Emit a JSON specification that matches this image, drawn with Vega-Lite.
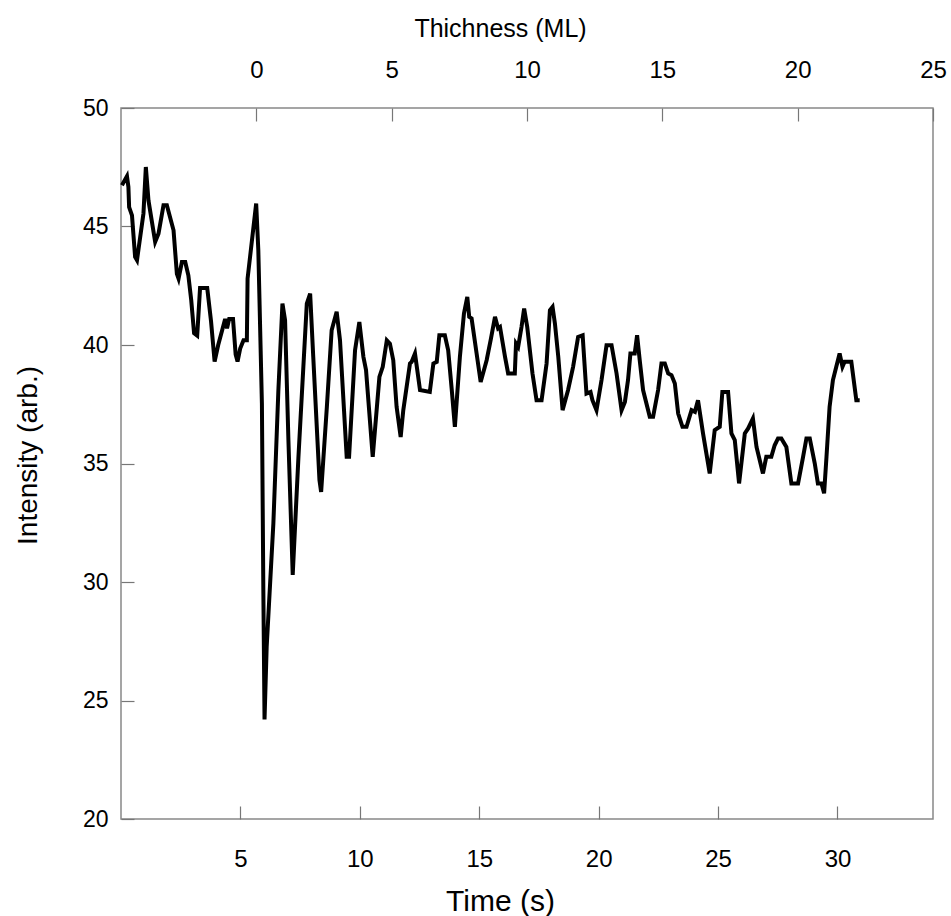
{
  "$schema": "https://vega.github.io/schema/vega-lite/v6.json",
  "width": 812,
  "height": 711,
  "autosize": {"type": "none"},
  "padding": {"left": 121, "top": 108, "right": 18, "bottom": 97},
  "background": "white",
  "config": {
    "view": {"stroke": "#888888", "strokeWidth": 1.5},
    "font": "Liberation Sans",
    "axis": {
      "domain": false,
      "grid": false,
      "labelFlush": false,
      "labelOverlap": false,
      "tickColor": "#777777",
      "tickWidth": 1.2,
      "labelColor": "black",
      "titleColor": "black",
      "labelFont": "Liberation Sans",
      "titleFont": "Liberation Sans",
      "titleFontWeight": "normal"
    }
  },
  "datasets": {
    "series": [
      {"t": 0.04, "I": 46.74}, {"t": 0.25, "I": 47.12}, {"t": 0.31, "I": 46.67}, {"t": 0.34, "I": 45.82},
      {"t": 0.46, "I": 45.47}, {"t": 0.59, "I": 43.72}, {"t": 0.67, "I": 43.58}, {"t": 0.94, "I": 45.55},
      {"t": 1.04, "I": 47.51}, {"t": 1.15, "I": 46.1}, {"t": 1.43, "I": 44.35}, {"t": 1.57, "I": 44.7},
      {"t": 1.78, "I": 45.9}, {"t": 1.92, "I": 45.9}, {"t": 2.2, "I": 44.84}, {"t": 2.34, "I": 43.0},
      {"t": 2.41, "I": 42.8}, {"t": 2.55, "I": 43.5}, {"t": 2.69, "I": 43.5}, {"t": 2.82, "I": 42.94},
      {"t": 2.94, "I": 41.9}, {"t": 3.06, "I": 40.5}, {"t": 3.19, "I": 40.4}, {"t": 3.31, "I": 42.4},
      {"t": 3.61, "I": 42.4}, {"t": 3.77, "I": 41.0}, {"t": 3.92, "I": 39.3}, {"t": 4.07, "I": 40.0},
      {"t": 4.23, "I": 40.6}, {"t": 4.36, "I": 41.1}, {"t": 4.44, "I": 40.7}, {"t": 4.53, "I": 41.1},
      {"t": 4.69, "I": 41.1}, {"t": 4.8, "I": 39.6}, {"t": 4.88, "I": 39.3}, {"t": 4.99, "I": 39.85},
      {"t": 5.13, "I": 40.2}, {"t": 5.27, "I": 40.2}, {"t": 5.3, "I": 42.8}, {"t": 5.66, "I": 45.97},
      {"t": 5.75, "I": 44.0}, {"t": 5.9, "I": 37.53}, {"t": 5.96, "I": 29.66}, {"t": 6.01, "I": 24.2},
      {"t": 6.1, "I": 27.27}, {"t": 6.38, "I": 32.47}, {"t": 6.59, "I": 38.1}, {"t": 6.76, "I": 41.75},
      {"t": 6.87, "I": 41.05}, {"t": 7.01, "I": 35.98}, {"t": 7.19, "I": 30.3}, {"t": 7.43, "I": 35.28},
      {"t": 7.78, "I": 41.75}, {"t": 7.92, "I": 42.17}, {"t": 8.05, "I": 39.5}, {"t": 8.31, "I": 34.3},
      {"t": 8.38, "I": 33.8}, {"t": 8.62, "I": 37.39}, {"t": 8.82, "I": 40.62}, {"t": 9.03, "I": 41.4},
      {"t": 9.17, "I": 40.2}, {"t": 9.45, "I": 35.28}, {"t": 9.55, "I": 35.28}, {"t": 9.8, "I": 39.78},
      {"t": 9.98, "I": 40.97}, {"t": 10.15, "I": 39.5}, {"t": 10.26, "I": 38.94}, {"t": 10.54, "I": 35.28},
      {"t": 10.82, "I": 38.65}, {"t": 10.96, "I": 39.08}, {"t": 11.13, "I": 40.2}, {"t": 11.26, "I": 40.06},
      {"t": 11.4, "I": 39.36}, {"t": 11.54, "I": 37.39}, {"t": 11.71, "I": 36.12}, {"t": 11.82, "I": 37.25},
      {"t": 12.1, "I": 39.22}, {"t": 12.17, "I": 39.29}, {"t": 12.31, "I": 39.64}, {"t": 12.52, "I": 38.1},
      {"t": 12.93, "I": 38.02}, {"t": 13.08, "I": 39.22}, {"t": 13.22, "I": 39.29}, {"t": 13.33, "I": 40.41},
      {"t": 13.56, "I": 40.41}, {"t": 13.7, "I": 39.78}, {"t": 13.85, "I": 38.1}, {"t": 13.98, "I": 36.55},
      {"t": 14.19, "I": 39.5}, {"t": 14.36, "I": 41.33}, {"t": 14.5, "I": 42.03}, {"t": 14.58, "I": 41.19},
      {"t": 14.68, "I": 41.12}, {"t": 14.89, "I": 39.64}, {"t": 15.06, "I": 38.44}, {"t": 15.31, "I": 39.36},
      {"t": 15.49, "I": 40.27}, {"t": 15.66, "I": 41.19}, {"t": 15.79, "I": 40.7}, {"t": 15.87, "I": 40.76},
      {"t": 16.08, "I": 39.5}, {"t": 16.21, "I": 38.8}, {"t": 16.49, "I": 38.8}, {"t": 16.54, "I": 40.06},
      {"t": 16.63, "I": 39.92}, {"t": 16.77, "I": 40.76}, {"t": 16.88, "I": 41.54}, {"t": 17.01, "I": 40.76},
      {"t": 17.23, "I": 38.8}, {"t": 17.4, "I": 37.67}, {"t": 17.61, "I": 37.67}, {"t": 17.82, "I": 39.22},
      {"t": 17.96, "I": 41.47}, {"t": 18.07, "I": 41.61}, {"t": 18.17, "I": 40.9}, {"t": 18.31, "I": 39.5},
      {"t": 18.49, "I": 37.25}, {"t": 18.72, "I": 38.1}, {"t": 18.93, "I": 39.08}, {"t": 19.14, "I": 40.34},
      {"t": 19.33, "I": 40.41}, {"t": 19.49, "I": 37.95}, {"t": 19.66, "I": 38.02}, {"t": 19.74, "I": 37.67},
      {"t": 19.91, "I": 37.25}, {"t": 20.12, "I": 38.52}, {"t": 20.33, "I": 39.99}, {"t": 20.54, "I": 39.99},
      {"t": 20.75, "I": 38.8}, {"t": 20.96, "I": 37.25}, {"t": 21.1, "I": 37.6}, {"t": 21.23, "I": 38.52},
      {"t": 21.33, "I": 39.64}, {"t": 21.51, "I": 39.64}, {"t": 21.61, "I": 40.41}, {"t": 21.72, "I": 39.36},
      {"t": 21.86, "I": 38.1}, {"t": 22.14, "I": 36.97}, {"t": 22.28, "I": 36.97}, {"t": 22.49, "I": 38.1},
      {"t": 22.63, "I": 39.22}, {"t": 22.77, "I": 39.22}, {"t": 22.91, "I": 38.8}, {"t": 23.05, "I": 38.73},
      {"t": 23.19, "I": 38.38}, {"t": 23.33, "I": 37.11}, {"t": 23.51, "I": 36.55}, {"t": 23.68, "I": 36.55},
      {"t": 23.89, "I": 37.25}, {"t": 24.03, "I": 37.18}, {"t": 24.16, "I": 37.67}, {"t": 24.37, "I": 36.27},
      {"t": 24.65, "I": 34.58}, {"t": 24.86, "I": 36.41}, {"t": 25.07, "I": 36.55}, {"t": 25.18, "I": 38.02},
      {"t": 25.42, "I": 38.02}, {"t": 25.56, "I": 36.27}, {"t": 25.7, "I": 35.99}, {"t": 25.88, "I": 34.16},
      {"t": 26.12, "I": 36.27}, {"t": 26.26, "I": 36.48}, {"t": 26.46, "I": 36.9}, {"t": 26.61, "I": 35.7},
      {"t": 26.88, "I": 34.58}, {"t": 27.02, "I": 35.28}, {"t": 27.23, "I": 35.28}, {"t": 27.37, "I": 35.77},
      {"t": 27.51, "I": 36.06}, {"t": 27.65, "I": 36.06}, {"t": 27.86, "I": 35.7}, {"t": 28.07, "I": 34.16},
      {"t": 28.35, "I": 34.16}, {"t": 28.56, "I": 35.28}, {"t": 28.7, "I": 36.06}, {"t": 28.84, "I": 36.06},
      {"t": 29.05, "I": 35.0}, {"t": 29.18, "I": 34.16}, {"t": 29.33, "I": 34.16}, {"t": 29.44, "I": 33.74},
      {"t": 29.54, "I": 35.28}, {"t": 29.67, "I": 37.39}, {"t": 29.81, "I": 38.52}, {"t": 29.95, "I": 39.08},
      {"t": 30.09, "I": 39.64}, {"t": 30.21, "I": 39.08}, {"t": 30.3, "I": 39.29}, {"t": 30.58, "I": 39.29},
      {"t": 30.79, "I": 37.67}, {"t": 30.93, "I": 37.67}
    ],
    "mlrange": [{"ML": -5}, {"ML": 25}]
  },
  "layer": [
    {
      "data": {"name": "series"},
      "mark": {"type": "line", "color": "black", "strokeWidth": 4, "strokeJoin": "miter", "strokeCap": "butt"},
      "encoding": {
        "x": {
          "field": "t", "type": "quantitative",
          "scale": {"domain": [0, 34], "nice": false, "zero": false},
          "axis": {
            "orient": "bottom", "title": "Time (s)",
            "values": [5, 10, 15, 20, 25, 30],
            "tickSize": -13, "labelPadding": 41,
            "labelFontSize": 24, "titleFontSize": 30,
            "titleAnchor": "start", "titleAlign": "center", "titleX": 379, "titleY": 82, "titleBaseline": "middle"
          }
        },
        "y": {
          "field": "I", "type": "quantitative",
          "scale": {"domain": [20, 50], "nice": false, "zero": false},
          "axis": {
            "title": "Intensity (arb.)",
            "values": [20, 25, 30, 35, 40, 45, 50],
            "tickSize": -13, "labelPadding": 26,
            "labelFontSize": 23, "titleFontSize": 28,
            "titleX": -93, "titleY": 347, "titleAlign": "center", "titleBaseline": "middle"
          }
        }
      }
    },
    {
      "data": {"name": "mlrange"},
      "mark": {"type": "point", "opacity": 0},
      "encoding": {
        "x": {
          "field": "ML", "type": "quantitative",
          "scale": {"domain": [-5, 25], "nice": false, "zero": false},
          "axis": {
            "orient": "top", "title": "Thichness (ML)",
            "values": [0, 5, 10, 15, 20, 25],
            "tickSize": -13, "labelPadding": 39,
            "labelFontSize": 24, "titleFontSize": 25,
            "titleAnchor": "start", "titleAlign": "center", "titleX": 379, "titleY": -80, "titleBaseline": "middle"
          }
        }
      }
    }
  ],
  "resolve": {"scale": {"x": "independent"}, "axis": {"x": "independent"}}
}
